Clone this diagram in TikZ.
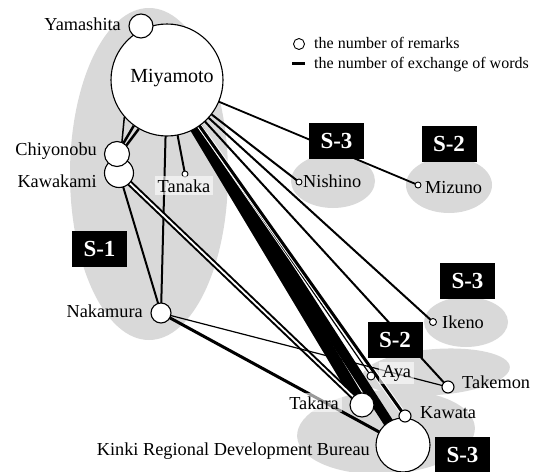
\documentclass[tikz,border=0pt]{standalone}
\usepackage{fontspec}
\setmainfont{Liberation Serif}
\pgfdeclarelayer{ell}
\pgfdeclarelayer{edges}
\pgfdeclarelayer{front}
\pgfsetlayers{ell,edges,main,front}
\definecolor{sgray}{RGB}{217,217,217}
\begin{document}
\begin{tikzpicture}[x=1pt,y=-1pt,
  pnode/.style={circle, draw=black, fill=white, line width=1.1pt, inner sep=0pt},
  lbl/.style={font=\fontsize{18.3}{20}\selectfont, inner sep=0pt},
  leg/.style={font=\fontsize{16}{18}\selectfont, inner sep=0pt},
  bglbl/.style={lbl, fill=white, fill opacity=0.6, text opacity=1, inner xsep=3pt, inner ysep=3pt},
  sbox/.style={fill=black, text=white, font=\fontsize{23}{25}\selectfont\bfseries, minimum width=55pt, minimum height=36pt, inner sep=0pt},
  grp/.style={fill=sgray}
]
\useasboundingbox (0,0) rectangle (543,471);

% group ellipses
\begin{pgfonlayer}{ell}
\fill[grp] (149,174) ellipse [x radius=79, y radius=166];
\fill[grp] (333,181) ellipse [x radius=42, y radius=27];
\fill[grp] (449,185) ellipse [x radius=43, y radius=28];
\fill[grp] (466,322) ellipse [x radius=42, y radius=25];
\fill[grp, rotate around={4:(436,372)}] (436,372) ellipse [x radius=74, y radius=23];
\fill[grp, rotate around={3:(386,432)}] (386,432) ellipse [x radius=89, y radius=42];
\end{pgfonlayer}

% persons
\node[pnode, minimum size=112pt] (Mi) at (167,80) {};
\node[pnode, minimum size=24pt] (Ya) at (141,26) {};
\node[pnode, minimum size=29pt] (Ka) at (119,173) {};
\node[pnode, minimum size=25pt] (Ch) at (117,154) {};
\node[pnode, minimum size=6pt, line width=0.9pt] (Ta) at (185,174) {};
\node[pnode, minimum size=6pt, line width=0.9pt] (Ni) at (299,182) {};
\node[pnode, minimum size=6pt, line width=0.9pt] (Mz) at (418,185) {};
\node[pnode, minimum size=7pt, line width=0.9pt] (Ik) at (433,322) {};
\node[pnode, minimum size=20pt] (Na) at (161,313) {};
\node[pnode, minimum size=8pt, line width=0.9pt] (Ay) at (371,376) {};
\node[pnode, minimum size=12pt] (Tk) at (448,387) {};
\node[pnode, minimum size=24pt] (Tr) at (362,405) {};
\node[pnode, minimum size=54pt] (Ki) at (403,445) {};
\node[pnode, minimum size=12pt] (Kw) at (405,416) {};

% exchanges
\begin{pgfonlayer}{edges}
\draw[line width=1.5pt] (Mi.221) -- (Ka.center);
\draw[line width=2.5pt] (Mi.234) -- (Ch.center);
\draw[line width=2.5pt] (Mi.240) -- ([xshift=3pt]Ch.center);
\draw[line width=2pt] (Mi.center) -- (Na.center);
\draw[line width=2pt] (Mi.center) -- (Ta.center);
\draw[line width=1.8pt] (Mi.center) -- (Mz.center);
\draw[line width=2pt] (Mi.center) -- (Ni.center);
\draw[line width=2pt] (Mi.center) -- (Ik.center);
\draw[line width=2pt] (Mi.center) -- (Tk.center);
\draw[line width=12pt] (Mi.center) -- (Tr.center);
\draw[line width=10pt] (Mi.center) -- (Ki.center);
\draw[white, line width=3pt] (Mi.center) -- (Ay.center);
\draw[line width=1.2pt] (Mi.center) -- (Ay.center);
\draw[white, line width=5pt] (Mi.center) -- (Kw.center);
\draw[line width=3pt] (Mi.center) -- (Kw.center);
\draw[line width=2pt] (Ka.center) -- (Na.center);
\draw[double, double distance=1.8pt, line width=2pt] (Ka.center) -- (Tr.center);
\draw[line width=1.2pt] (Na.center) -- (Tk.center);
\draw[line width=3pt] (Na.center) -- (Ki.center);
\end{pgfonlayer}

% labels
\begin{pgfonlayer}{front}
\node[lbl, font=\fontsize{20}{22}\selectfont, anchor=base] (lMi) at (172,82) {Miyamoto};
\node[lbl, anchor=base east] (lYa) at (121,30) {Yamashita};
\node[lbl, anchor=base east] (lCh) at (97,155) {Chiyonobu};
\node[lbl, anchor=base east] (lKa) at (97,187) {Kawakami};
\node[bglbl, anchor=base] (lTa) at (184,192) {Tanaka};
\node[lbl, anchor=base west] (lNi) at (303,187) {Nishino};
\node[lbl, anchor=base west] (lMz) at (425,193) {Mizuno};
\node[lbl, anchor=base west] (lIk) at (442,328) {Ikeno};
\node[lbl, anchor=base east] (lNa) at (143,317) {Nakamura};
\node[bglbl, anchor=base west] (lAy) at (379,377) {Aya};
\node[lbl, anchor=base west] (lTk) at (462,388) {Takemon};
\node[bglbl, anchor=base east] (lTr) at (342,409) {Takara};
\node[lbl, anchor=base west] (lKw) at (420,418) {Kawata};
\node[lbl, anchor=base east] (lKi) at (370,455) {Kinki Regional Development Bureau};

% group boxes
\node[sbox] (b1) at (99.5,248.5) {S-1};
\node[sbox] (b2) at (336.5,141) {S-3};
\node[sbox] (b3) at (449,143.5) {S-2};
\node[sbox] (b4) at (467.5,280.5) {S-3};
\node[sbox] (b5) at (395,339.5) {S-2};
\node[sbox] (b6) at (462.5,455) {S-3};

% legend
\node[pnode, minimum size=11pt, line width=0.9pt] (legc) at (299,44) {};
\node[leg, anchor=base west] (legt1) at (314,48) {the number of remarks};
\coordinate (legl1) at (292,63);
\coordinate (legl2) at (305,63);
\draw[line width=3pt] (legl1) -- (legl2);
\node[leg, anchor=base west] (legt2) at (314,68) {the number of exchange of words};
\end{pgfonlayer}
\end{tikzpicture}
\end{document}
